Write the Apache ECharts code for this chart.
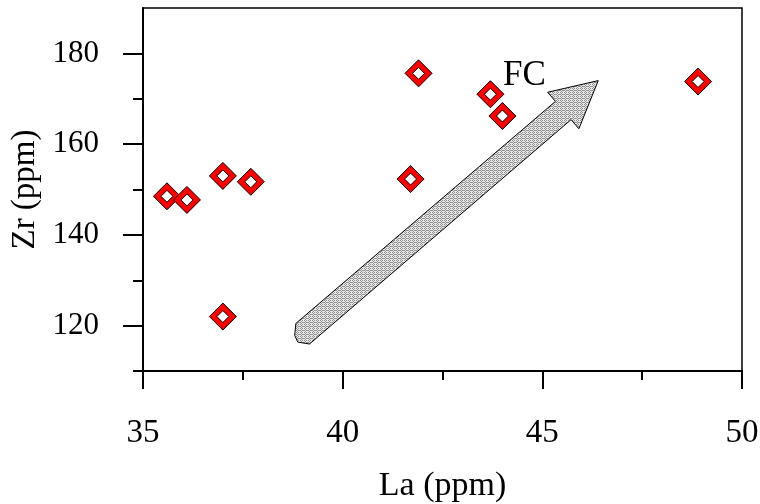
<!DOCTYPE html>
<html>
<head>
<meta charset="utf-8">
<script src="https://cdn.jsdelivr.net/npm/echarts@6/dist/echarts.min.js"></script>
<style>
html, body { margin: 0; padding: 0; background: #fff; }
#chart { width: 760px; height: 504px; }
</style>
</head>
<body>
<div id="chart"></div>
<script>
// La vs Zr, ppm
const laValues = [35.6, 36.1, 37.0, 37.7, 37.0, 41.7, 41.9, 43.7, 44.0, 48.9];
const zrValues = [148.5, 147.7, 153.0, 151.7, 122.0, 152.3, 175.6, 171.0, 166.2, 173.8];
const yMajorTicks = [120, 140, 160, 180];
const yMinorTicks = [110, 130, 150, 170];
// FC trend arrow, tail and tip in data units
const arrowFrom = [39.0, 118.3];
const arrowTo = [46.4, 174.0];
const fcLabel = ['FC', 44.55, 175.1];

const font = 'Liberation Serif, Times New Roman, serif';
const points = laValues.map((v, i) => [v, zrValues[i]]);

// dithered grey fill like the original hatch
function hatch() {
    const c = document.createElement('canvas');
    c.width = 4; c.height = 4;
    const g = c.getContext('2d');
    g.fillStyle = '#e8e8e8';
    g.fillRect(0, 0, 4, 4);
    g.fillStyle = '#8f8f8f';
    [[0, 0], [2, 0], [1, 1], [3, 2], [0, 2], [2, 2], [1, 3]].forEach(p => g.fillRect(p[0], p[1], 1, 1));
    return { image: c, repeat: 'repeat' };
}

let myChart = echarts.init(document.getElementById('chart'));
let option = {
    animation: false,
    backgroundColor: '#fff',
    grid: {
        left: 143, right: 18, top: 8, bottom: 133,
        outerBoundsMode: 'none', containLabel: false,
        show: true, borderColor: '#000', borderWidth: 1.5, backgroundColor: 'transparent'
    },
    xAxis: {
        type: 'value', min: 35, max: 50, interval: 5,
        name: 'La (ppm)', nameLocation: 'middle', nameGap: 98,
        nameTextStyle: { fontFamily: font, fontSize: 34, color: '#000' },
        axisLine: { lineStyle: { color: '#000', width: 2 } },
        axisTick: { inside: false, length: 18, lineStyle: { color: '#000', width: 2 } },
        minorTick: { show: true, splitNumber: 2, length: 9, lineStyle: { color: '#000', width: 2 } },
        axisLabel: { margin: 46, fontFamily: font, fontSize: 33, color: '#000' },
        splitLine: { show: false }
    },
    yAxis: [
        {
            type: 'value', min: 110, max: 190,
            name: 'Zr (ppm)', nameLocation: 'middle', nameGap: 97, nameRotate: 90,
            nameTextStyle: { fontFamily: font, fontSize: 33, color: '#000' },
            axisLine: { lineStyle: { color: '#000', width: 2 } },
            axisTick: { length: 20, customValues: yMajorTicks, lineStyle: { color: '#000', width: 2 } },
            axisLabel: { margin: 44, customValues: yMajorTicks, fontFamily: font, fontSize: 31, color: '#000' },
            splitLine: { show: false }
        },
        {
            type: 'value', min: 110, max: 190, position: 'left',
            axisLine: { show: false },
            axisTick: { show: true, length: 10, customValues: yMinorTicks, lineStyle: { color: '#000', width: 2 } },
            axisLabel: { show: false },
            splitLine: { show: false }
        }
    ],
    series: [
        {
            type: 'scatter', symbol: 'diamond', symbolSize: 27, z: 3,
            itemStyle: { color: '#ff0000', borderColor: '#000', borderWidth: 1, opacity: 1 },
            data: points
        },
        {
            type: 'scatter', symbol: 'diamond', symbolSize: 12, z: 4,
            itemStyle: { color: '#fff', borderColor: '#000', borderWidth: 1, opacity: 1 },
            data: points
        }
    ]
};
myChart.setOption(option);

// block arrow, built along the tail->tip direction in pixels
const a = myChart.convertToPixel({ gridIndex: 0 }, arrowFrom);
const b = myChart.convertToPixel({ gridIndex: 0 }, arrowTo);
const len = Math.hypot(b[0] - a[0], b[1] - a[1]);
const ex = (b[0] - a[0]) / len, ey = (b[1] - a[1]) / len;
const nx = ey, ny = -ex;
const local = [
    [1.2, 12], [-7.4, 3.7], [-9.5, -3.4], [-1.8, -12.5],
    [len - 46, -12], [len - 46, -24], [len, 0], [len - 46, 24], [len - 46, 12]
];
const arrowPts = local.map(p => [a[0] + p[0] * ex + p[1] * nx, a[1] + p[0] * ey + p[1] * ny]);
const fcPos = myChart.convertToPixel({ gridIndex: 0 }, [fcLabel[1], fcLabel[2]]);

myChart.setOption({
    graphic: [
        {
            type: 'polygon', z: 2,
            shape: { points: arrowPts },
            style: { fill: hatch(), stroke: '#000', lineWidth: 1 }
        },
        {
            type: 'text', z: 5, x: fcPos[0], y: fcPos[1],
            style: { text: fcLabel[0], font: '35px ' + font, fill: '#000', align: 'center', verticalAlign: 'middle' }
        }
    ]
});
</script>
</body>
</html>
